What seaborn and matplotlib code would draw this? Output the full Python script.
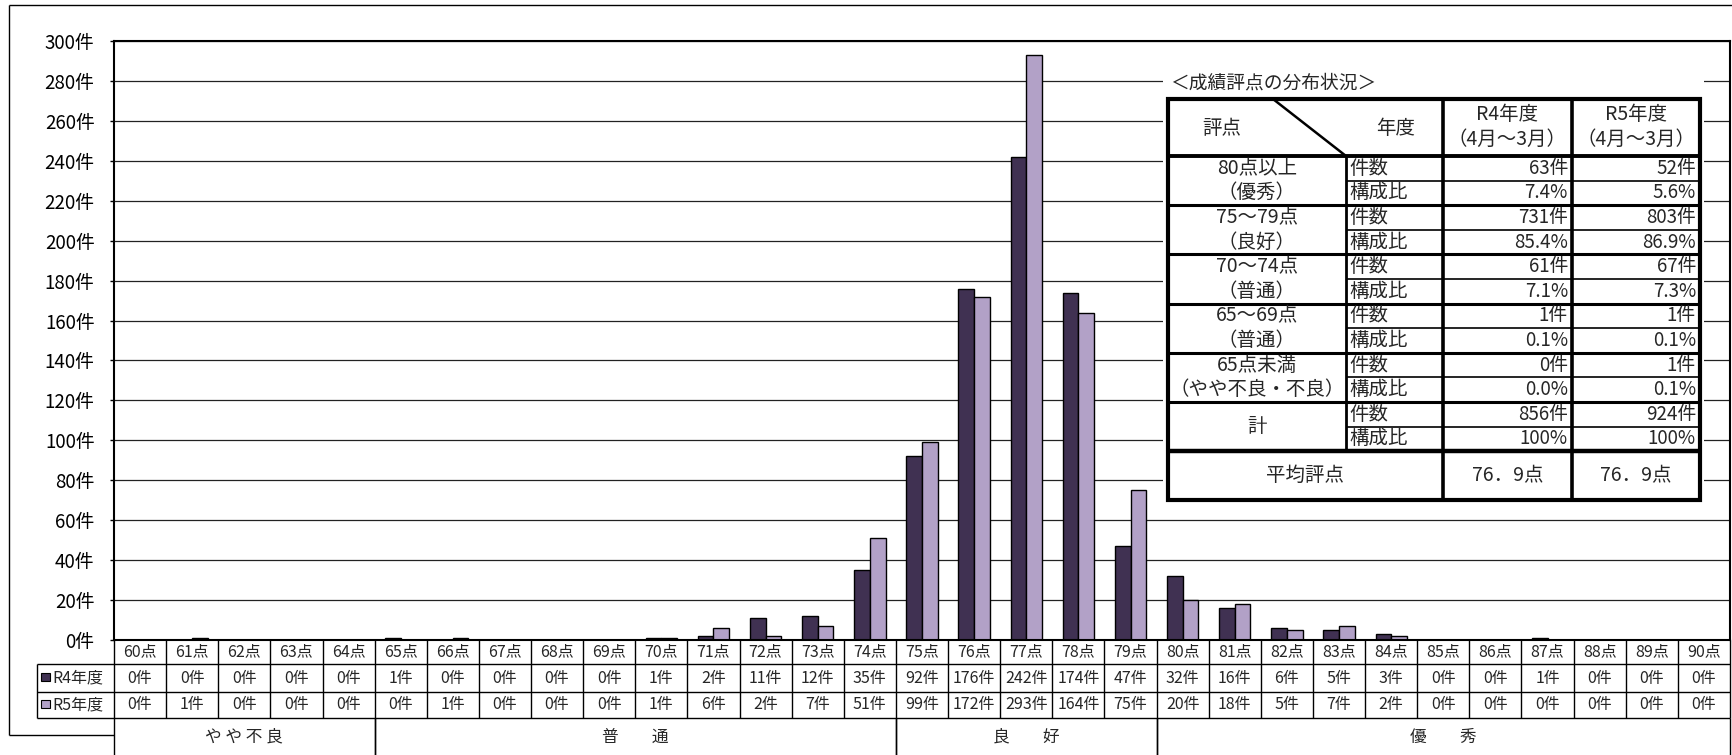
import matplotlib.pyplot as plt
import numpy as np
import pandas as pd
import seaborn as sns
from matplotlib.patches import Rectangle

# ---- data ----
scores = ['60点', '61点', '62点', '63点', '64点', '65点', '66点', '67点', '68点', '69点',
          '70点', '71点', '72点', '73点', '74点', '75点', '76点', '77点', '78点', '79点',
          '80点', '81点', '82点', '83点', '84点', '85点', '86点', '87点', '88点', '89点', '90点']
r4 = [0, 0, 0, 0, 0, 1, 0, 0, 0, 0, 1, 2, 11, 12, 35, 92, 176, 242, 174, 47,
      32, 16, 6, 5, 3, 0, 0, 1, 0, 0, 0]
r5 = [0, 1, 0, 0, 0, 0, 1, 0, 0, 0, 1, 6, 2, 7, 51, 99, 172, 293, 164, 75,
      20, 18, 5, 7, 2, 0, 0, 0, 0, 0, 0]
years = ['R4年度', 'R5年度']
bar_colors = ['#403152', '#B2A1C7']
y_ticks = [0, 20, 40, 60, 80, 100, 120, 140, 160, 180, 200, 220, 240, 260, 280, 300]

# bands under the table (label, first index, last index + 1)
bands = [('や や 不 良', 0, 5), ('普　　通', 5, 15), ('良　　好', 15, 20), ('優　　秀', 20, 31)]

# summary table
sum_title = '＜成績評点の分布状況＞'
sum_groups = [['80点以上', '（優秀）'], ['75～79点', '（良好）'], ['70～74点', '（普通）'],
              ['65～69点', '（普通）'], ['65点未満', '（やや不良・不良）'], ['計']]
r4_cnt = [63, 731, 61, 1, 0, 856]
r5_cnt = [52, 803, 67, 1, 1, 924]
r4_pct = [7.4, 85.4, 7.1, 0.1, 0.0, 100]
r5_pct = [5.6, 86.9, 7.3, 0.1, 0.1, 100]
mean_score = [76.9, 76.9]

sns.set_theme(style='white')
plt.rcParams['font.family'] = ['Noto Sans CJK JP', 'DejaVu Sans']

W, H = 1733, 755
fig = plt.figure(figsize=(W / 100, H / 100), dpi=100)
fig.patch.set_facecolor('white')

ax = fig.add_axes([114 / W, (H - 640) / H, (1730 - 114) / W, (640 - 41) / H])
df = pd.DataFrame({'評点': scores * 2, '件数': r4 + r5,
                   '年度': [years[0]] * len(r4) + [years[1]] * len(r5)})
sns.barplot(data=df, x='評点', y='件数', hue='年度', order=scores, hue_order=years,
            palette=bar_colors, saturation=1, width=0.6, gap=0,
            edgecolor='black', linewidth=1.0, legend=False, ax=ax)
ax.set_xlim(-0.5, len(scores) - 0.5)
ax.set_ylim(0, 300)
ax.set_yticks(y_ticks)
ax.set_yticklabels([f'{v}件' for v in y_ticks], fontsize=13.5)
ax.set_xticks([])
ax.set_xlabel('')
ax.set_ylabel('')
ax.yaxis.grid(True, color='#222222', linewidth=0.9)
ax.set_axisbelow(True)
ax.tick_params(axis='y', left=True, length=3, width=1, pad=11, colors='black')
for s in ax.spines.values():
    s.set_color('black')
    s.set_linewidth(1.5)

# overlay in pixel coords (top = 0)
ov = fig.add_axes([0, 0, 1, 1], zorder=5)
ov.set_xlim(0, W)
ov.set_ylim(H, 0)
ov.axis('off')

def line(x0, y0, x1, y1, lw=1.0):
    ov.plot([x0, x1], [y0, y1], color='black', linewidth=lw, solid_capstyle='butt')

# outer frame
line(9, 5, W, 5, 1.0)
line(9, 5, 9, 735, 1.0)

# ---- bottom table ----
b = [ax.transData.transform((i - 0.5, 0))[0] for i in range(len(scores) + 1)]
line(9, 735, b[0], 735, 1.0)
lx = 37
line(lx, 664, b[-1], 664, 1.0)
line(lx, 692, b[-1], 692, 1.0)
line(lx, 718, b[-1], 718, 1.0)
line(lx, 664, lx, 718, 1.0)
for xb in b:
    line(xb, 640, xb, 718, 1.0)
for i, s in enumerate(scores):
    xc = (b[i] + b[i + 1]) / 2
    ov.text(xc, 652, s, ha='center', va='center', fontsize=11.5)
    ov.text(xc, 678, f'{r4[i]}件', ha='center', va='center', fontsize=11.5)
    ov.text(xc, 705, f'{r5[i]}件', ha='center', va='center', fontsize=11.5)
for k, (yname, yc) in enumerate(zip(years, [678, 705])):
    ov.add_patch(Rectangle((41, yc - 5), 9, 8, facecolor=bar_colors[k],
                           edgecolor='black', linewidth=0.8))
    ov.text(52, yc, yname, ha='left', va='center', fontsize=11.5)
for name, i0, i1 in bands:
    line(b[i0], 718, b[i0], H, 1.0)
    line(b[i1], 718, b[i1], H, 1.0)
    ov.text((b[i0] + b[i1]) / 2, 737, name, ha='center', va='center', fontsize=12)

# ---- summary table ----
tx0, tx1, tx2, tx3, tx4 = 1168, 1346, 1443, 1572, 1700
ty0, tyh = 99, 156
rh = 24.6
tym = tyh + 12 * rh
ty1 = 500
ov.add_patch(Rectangle((1163, 68), 1704 - 1163, 504 - 68, facecolor='white',
                       edgecolor='none', zorder=0))
ov.text(1170, 83, sum_title, ha='left', va='center', fontsize=13.5)

ov.add_patch(Rectangle((tx0, ty0), tx4 - tx0, ty1 - ty0, facecolor='none',
                       edgecolor='black', linewidth=3))
line(tx0, tyh, tx4, tyh, 2.8)
line(tx0, tym, tx4, tym, 3.2)
for g in range(1, 6):
    line(tx0, tyh + 2 * g * rh, tx4, tyh + 2 * g * rh, 2.2)
for g in range(6):
    line(tx1, tyh + (2 * g + 1) * rh, tx4, tyh + (2 * g + 1) * rh, 1.2)
line(tx1, tyh, tx1, tym, 2.0)
line(tx2, ty0, tx2, ty1, 2.6)
line(tx3, ty0, tx3, ty1, 2.6)
line(1273, ty0, tx1, tyh, 1.8)

ov.text(1222, 128, '評点', ha='center', va='center', fontsize=14)
ov.text(1396, 128, '年度', ha='center', va='center', fontsize=14)
for (xa, xb_), yname in zip([(tx2, tx3), (tx3, tx4)], years):
    ov.text((xa + xb_) / 2, 114, yname, ha='center', va='center', fontsize=14)
    ov.text((xa + xb_) / 2, 139, '（4月～3月）', ha='center', va='center', fontsize=14)

def pct(v):
    return '100%' if v == 100 else f'{v:.1f}%'

lc = (tx0 + tx1) / 2
for g, lab in enumerate(sum_groups):
    yA = tyh + (2 * g + 0.5) * rh
    yB = tyh + (2 * g + 1.5) * rh
    if len(lab) == 2:
        ov.text(lc, yA, lab[0], ha='center', va='center', fontsize=14)
        ov.text(lc, yB, lab[1], ha='center', va='center', fontsize=14)
    else:
        ov.text(lc, (yA + yB) / 2, lab[0], ha='center', va='center', fontsize=14)
    ov.text(tx1 + 3, yA, '件数', ha='left', va='center', fontsize=14)
    ov.text(tx1 + 3, yB, '構成比', ha='left', va='center', fontsize=14)
    ov.text(tx3 - 4, yA, f'{r4_cnt[g]}件', ha='right', va='center', fontsize=13.5)
    ov.text(tx3 - 4, yB, pct(r4_pct[g]), ha='right', va='center', fontsize=13.5)
    ov.text(tx4 - 4, yA, f'{r5_cnt[g]}件', ha='right', va='center', fontsize=13.5)
    ov.text(tx4 - 4, yB, pct(r5_pct[g]), ha='right', va='center', fontsize=13.5)

ym = (tym + ty1) / 2
ov.text((tx0 + tx2) / 2, ym, '平均評点', ha='center', va='center', fontsize=14)
for (xa, xb_), m in zip([(tx2, tx3), (tx3, tx4)], mean_score):
    ov.text((xa + xb_) / 2, ym, f'{m:.1f}'.replace('.', '．') + '点',
            ha='center', va='center', fontsize=14)

fig.savefig('out.png', dpi=100)
